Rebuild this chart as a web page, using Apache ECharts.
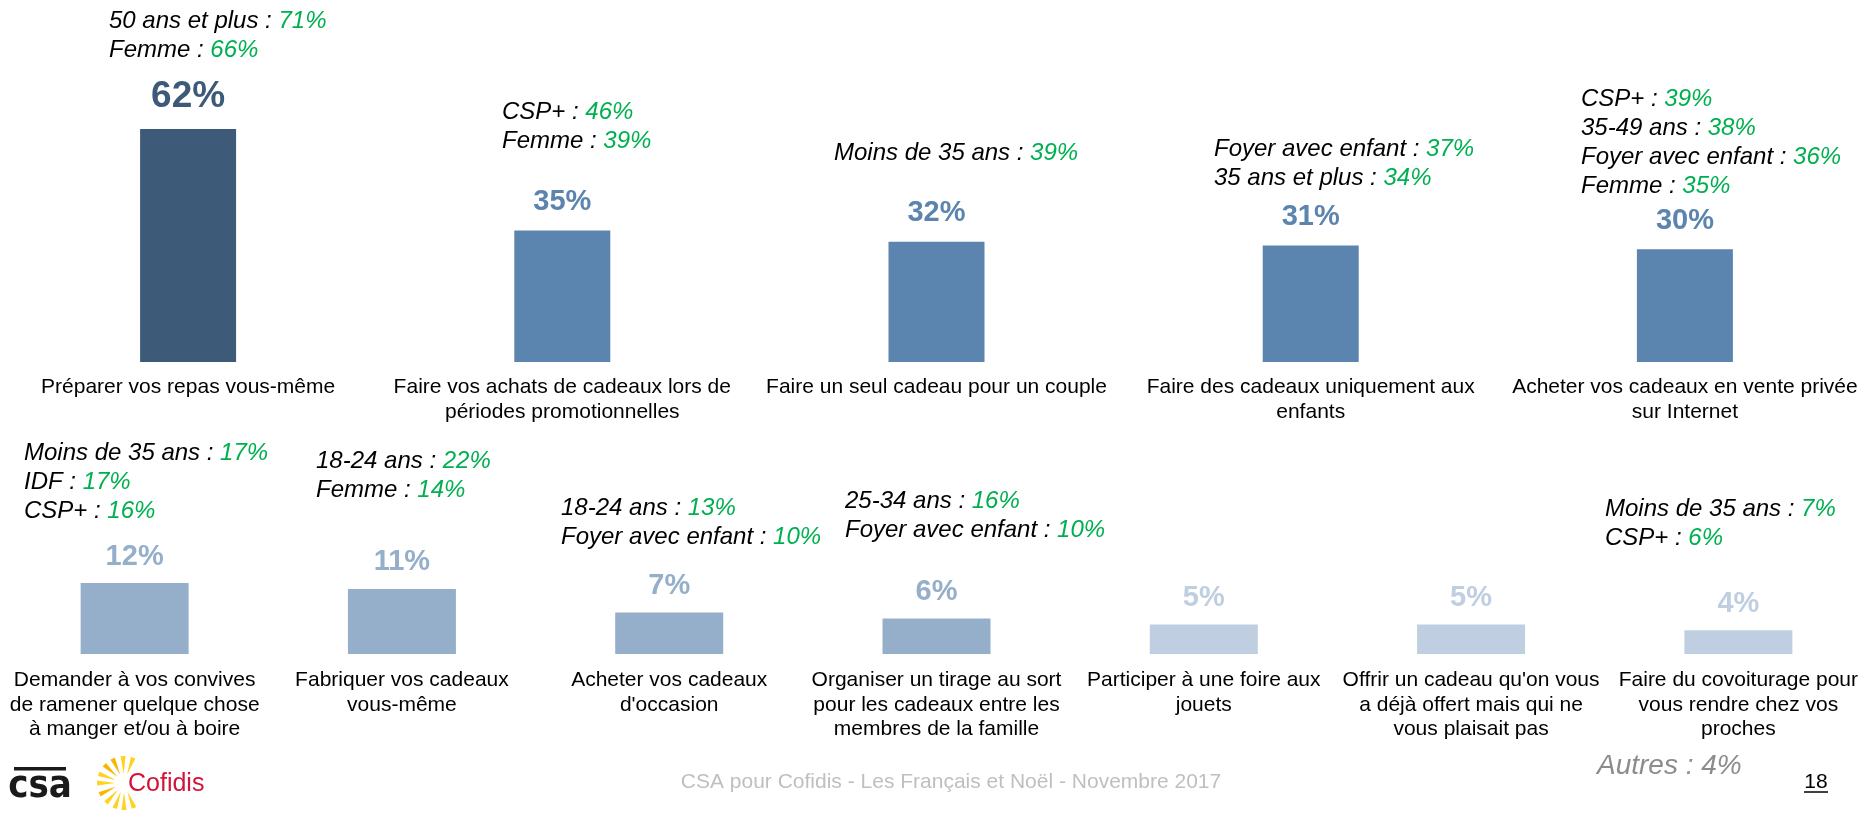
<!DOCTYPE html>
<html>
<head>
<meta charset="utf-8">
<title>Les Français et Noël</title>
<script src="https://cdn.jsdelivr.net/npm/echarts@6/dist/echarts.min.js"></script>
<style>
  html, body { margin: 0; padding: 0; background: #fff; }
  #chart { width: 1872px; height: 813px; }
</style>
</head>
<body>
<div id="chart"></div>
<script>
// ligne du haut
const topCategories = [
  "Préparer vos repas vous-même",
  "Faire vos achats de cadeaux lors de\npériodes promotionnelles",
  "Faire un seul cadeau pour un couple",
  "Faire des cadeaux uniquement aux\nenfants",
  "Acheter vos cadeaux en vente privée\nsur Internet",
];
const topValues = [62, 35, 32, 31, 30];
const topNotes = [
  [["50 ans et plus", 71], ["Femme", 66]],
  [["CSP+", 46], ["Femme", 39]],
  [["Moins de 35 ans", 39]],
  [["Foyer avec enfant", 37], ["35 ans et plus", 34]],
  [["CSP+", 39], ["35-49 ans", 38], ["Foyer avec enfant", 36], ["Femme", 35]],
];

// ligne du bas
const bottomCategories = [
  "Demander à vos convives\nde ramener quelque chose\nà manger et/ou à boire",
  "Fabriquer vos cadeaux\nvous-même",
  "Acheter vos cadeaux\nd'occasion",
  "Organiser un tirage au sort\npour les cadeaux entre les\nmembres de la famille",
  "Participer à une foire aux\njouets",
  "Offrir un cadeau qu'on vous\na déjà offert mais qui ne\nvous plaisait pas",
  "Faire du covoiturage pour\nvous rendre chez vos\nproches",
];
const bottomValues = [12, 11, 7, 6, 5, 5, 4];
const bottomNotes = [
  [["Moins de 35 ans", 17], ["IDF", 17], ["CSP+", 16]],
  [["18-24 ans", 22], ["Femme", 14]],
  [["18-24 ans", 13], ["Foyer avec enfant", 10]],
  [["25-34 ans", 16], ["Foyer avec enfant", 10]],
  [],
  [],
  [["Moins de 35 ans", 7], ["CSP+", 6]],
];
const otherValue = 4;

// placement des encadrés (coin gauche, centre de la 1re ligne)
const topNotePos = [[109, 19], [502, 110], [834, 151], [1214, 147], [1581, 97]];
const bottomNotePos = [[24, 451], [316, 459], [561, 506], [845, 499], null, null, [1605, 507]];

const FONT = '"Liberation Sans", Arial, sans-serif';
const GREEN = "#00B050";

const topColor = (v) => (v >= 50 ? "#3E5A79" : "#5B84AE");
const bottomColor = (v) => (v >= 6 ? "#95AFCB" : "#BFCFE1");

const toItems = (values, colorFn, bigFrom) =>
  values.map((v) => ({
    value: v,
    itemStyle: { color: colorFn(v) },
    label: { color: colorFn(v), fontSize: v >= bigFrom ? 37 : 29 },
  }));

const noteText = (lines) =>
  lines.map(([k, v]) => "{k|" + k + " : }{v|" + v + "%}").join("\n");

const noteGraphics = (notes, pos) =>
  notes
    .map((lines, i) => {
      if (!lines.length || !pos[i]) return null;
      return {
        type: "text",
        left: pos[i][0],
        top: pos[i][1] - 10,
        silent: true,
        style: {
          text: noteText(lines),
          rich: {
            k: { fontFamily: FONT, fontStyle: "italic", fontSize: 24, fill: "#000", lineHeight: 29 },
            v: { fontFamily: FONT, fontStyle: "italic", fontSize: 24, fill: GREEN, lineHeight: 29 },
          },
        },
      };
    })
    .filter(Boolean);

// rayons du logo Cofidis
const sunRays = [];
[180, 205, 228, 250, 270, 292, 160, 137, 115, 92, 70].forEach((deg) => {
  const a = (deg * Math.PI) / 180;
  const cx = 124, cy = 783, r0 = 9, r1 = 27, w = 0.09;
  sunRays.push({
    type: "polygon",
    silent: true,
    shape: {
      points: [
        [cx + r0 * Math.cos(a), cy - r0 * Math.sin(a)],
        [cx + r1 * Math.cos(a - w), cy - r1 * Math.sin(a - w)],
        [cx + r1 * Math.cos(a + w), cy - r1 * Math.sin(a + w)],
      ],
    },
    style: { fill: deg % 2 ? "#F5B700" : "#FFD21F" },
  });
});

const axisLabelStyle = {
  interval: 0,
  fontFamily: FONT,
  fontSize: 21,
  color: "#000",
};

const option = {
  animation: false,
  backgroundColor: "#fff",
  grid: [
    { left: 1, width: 1880, top: 129, height: 233 },
    { left: 1, width: 1880, top: 583, height: 71 },
  ],
  xAxis: [
    {
      gridIndex: 0,
      type: "category",
      data: topCategories,
      axisLine: { show: false },
      axisTick: { show: false },
      axisLabel: { ...axisLabelStyle, margin: 13, lineHeight: 25 },
    },
    {
      gridIndex: 1,
      type: "category",
      data: bottomCategories,
      axisLine: { show: false },
      axisTick: { show: false },
      axisLabel: { ...axisLabelStyle, margin: 14, lineHeight: 24.5 },
    },
  ],
  yAxis: [
    { gridIndex: 0, type: "value", min: 0, max: 62, show: false },
    { gridIndex: 1, type: "value", min: 0, max: 12, show: false },
  ],
  series: [
    {
      type: "bar",
      xAxisIndex: 0,
      yAxisIndex: 0,
      barWidth: 96,
      data: toItems(topValues, topColor, 50),
      label: {
        show: true,
        position: "top",
        distance: 14,
        formatter: "{c}%",
        fontFamily: FONT,
        fontWeight: "bold",
      },
    },
    {
      type: "bar",
      xAxisIndex: 1,
      yAxisIndex: 1,
      barWidth: 108,
      data: toItems(bottomValues, bottomColor, 50),
      label: {
        show: true,
        position: "top",
        distance: 12,
        formatter: "{c}%",
        fontFamily: FONT,
        fontWeight: "bold",
      },
    },
  ],
  graphic: [
    ...noteGraphics(topNotes, topNotePos),
    ...noteGraphics(bottomNotes, bottomNotePos),
    {
      type: "text",
      left: 1597,
      top: 752,
      silent: true,
      style: {
        text: "Autres : " + otherValue + "%",
        fontFamily: FONT,
        fontStyle: "italic",
        fontSize: 28,
        fill: "#8C8C8C",
      },
    },
    {
      type: "text",
      x: 951,
      y: 782,
      silent: true,
      style: {
        text: "CSA pour Cofidis - Les Français et Noël - Novembre 2017",
        fontFamily: FONT,
        fontSize: 21,
        fill: "#BFBFBF",
        align: "center",
        verticalAlign: "middle",
      },
    },
    {
      type: "text",
      x: 1816,
      y: 782,
      silent: true,
      style: {
        text: "18",
        fontFamily: FONT,
        fontSize: 21,
        fill: "#000",
        align: "center",
        verticalAlign: "middle",
      },
    },
    {
      type: "line",
      silent: true,
      shape: { x1: 1804, y1: 792, x2: 1828, y2: 792 },
      style: { stroke: "#000", lineWidth: 1.5 },
    },
    // logo csa
    {
      type: "rect",
      silent: true,
      shape: { x: 14, y: 767, width: 52, height: 3.5 },
      style: { fill: "#1A1A1A" },
    },
    {
      type: "text",
      x: 40,
      y: 787,
      silent: true,
      style: {
        text: "csa",
        fontFamily: '"Liberation Sans Narrow", "DejaVu Sans Condensed", Arial, sans-serif',
        fontWeight: "bold",
        fontSize: 38,
        fill: "#1A1A1A",
        align: "center",
        verticalAlign: "middle",
      },
    },
    // logo Cofidis
    ...sunRays,
    {
      type: "text",
      x: 128,
      y: 784,
      silent: true,
      style: {
        text: "Cofidis",
        fontFamily: FONT,
        fontSize: 25,
        fill: "#D2143A",
        verticalAlign: "middle",
      },
    },
  ],
};

let myChart = echarts.init(document.getElementById("chart"), null, { renderer: "canvas" });
myChart.setOption(option);
</script>
</body>
</html>
